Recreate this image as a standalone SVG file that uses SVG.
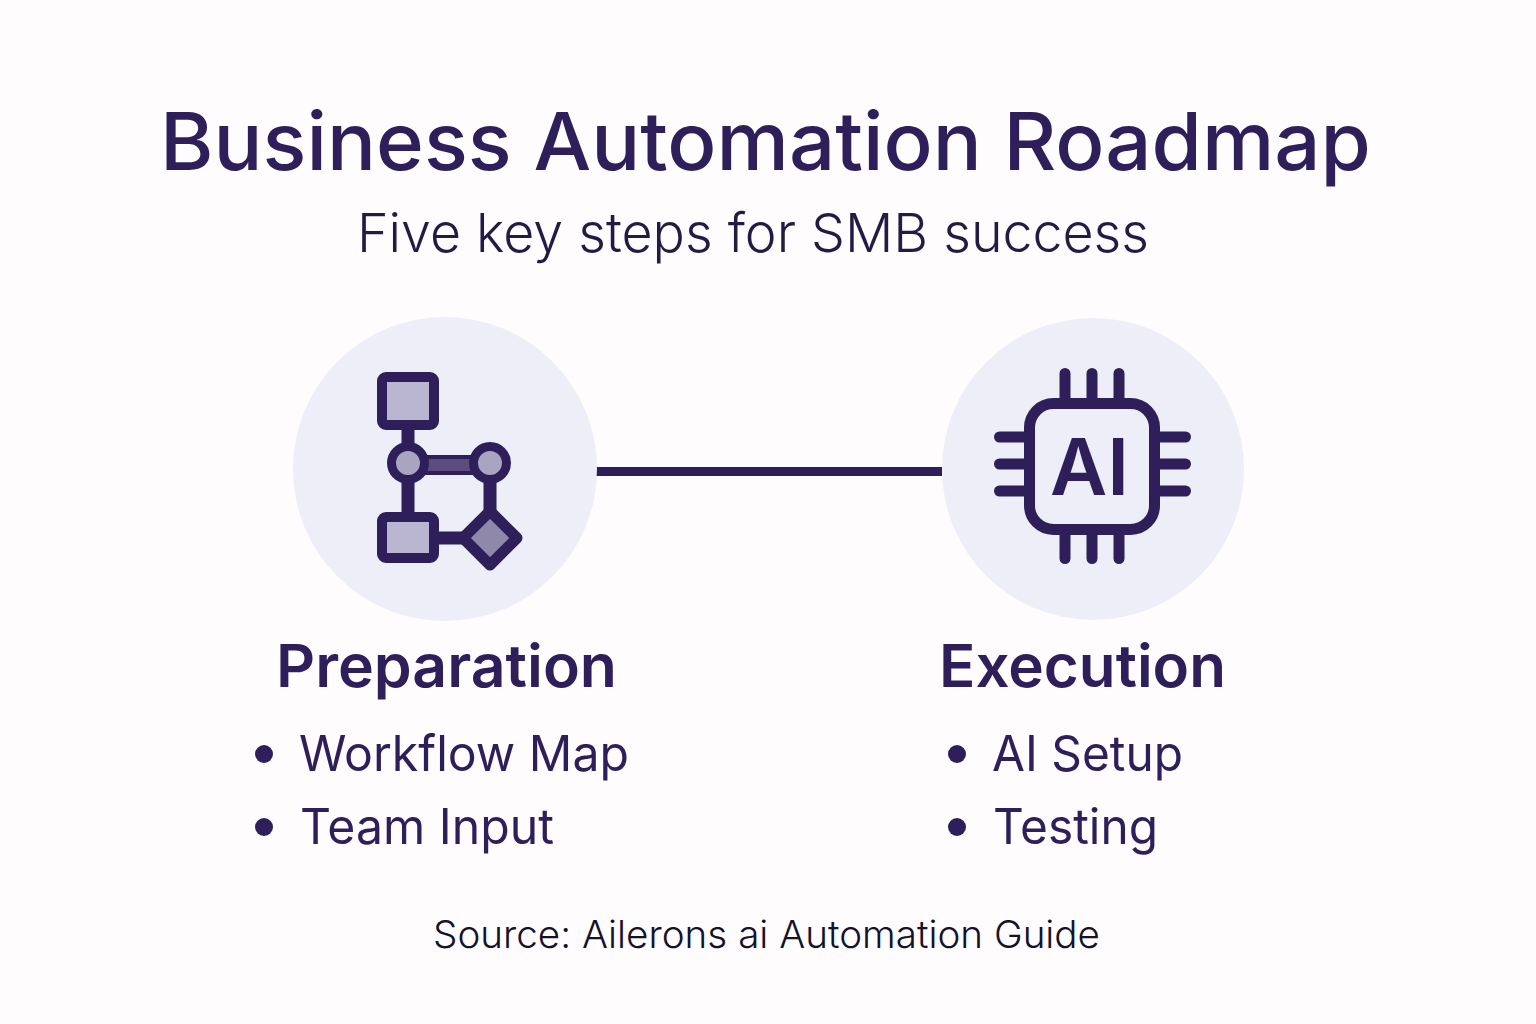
<svg xmlns="http://www.w3.org/2000/svg" width="1536" height="1024" viewBox="0 0 1536 1024">
<style>
text{font-family:"Inter","Liberation Sans",sans-serif;}
.t{fill:#2e1f5a}
.title{font-size:80px;font-weight:500}
.sub{font-size:54px;fill:#221c44;font-weight:300}
.head{font-size:59px;font-weight:600}
.item{font-size:49px;font-weight:400}
.src{font-size:38px;fill:#14112a;font-weight:300}
.bg{fill:#edeef7}
.ln{stroke:#2e1f5a;stroke-linecap:round;fill:none}
.box{stroke:#2e1f5a;stroke-width:10;stroke-linejoin:round}
</style>
<rect width="1536" height="1024" fill="#fefcfd"/>
<g id="header">
<text class="t title" x="160" y="170" textLength="1211" lengthAdjust="spacingAndGlyphs">Business Automation Roadmap</text>
<text class="sub" x="357" y="252" textLength="792" lengthAdjust="spacingAndGlyphs">Five key steps for SMB success</text>
</g>
<g id="connectors"><line x1="596" y1="471.500" x2="942" y2="471.500" stroke="#2e1f5a" stroke-width="9"/></g>
<g id="preparation">
<circle class="bg" cx="445" cy="469" r="152"/>
<path class="ln" stroke-width="13" stroke-linecap="butt" d="M408 425V517M490 480V515M435 538H470"/>
<rect x="425" y="457" width="48" height="16" fill="#5d4d7e" stroke="#2e1f5a" stroke-width="4"/>
<rect class="box" x="382" y="377" width="52" height="48" rx="4" fill="#bab5d0"/>
<rect class="box" x="382" y="517" width="52" height="41" rx="4" fill="#bab5d0"/>
<circle cx="408" cy="463" r="16.500" fill="#a9a4bf" stroke="#2e1f5a" stroke-width="9"/>
<circle cx="490" cy="463" r="16.500" fill="#a9a4bf" stroke="#2e1f5a" stroke-width="9"/>
<path d="M490 511L517 538L490 565L463 538Z" fill="#8f88ab" stroke="#2e1f5a" stroke-width="11" stroke-linejoin="round"/>
<text class="t head" x="276" y="687" textLength="341" lengthAdjust="spacingAndGlyphs">Preparation</text>
<circle class="t" cx="264" cy="754" r="9"/>
<text class="t item" x="299" y="771" textLength="330" lengthAdjust="spacingAndGlyphs">Workflow Map</text>
<circle class="t" cx="264" cy="827" r="9"/>
<text class="t item" x="300" y="844" textLength="254" lengthAdjust="spacingAndGlyphs">Team Input</text>
</g>
<g id="execution">
<circle class="bg" cx="1093" cy="469" r="151"/>
<path class="ln" stroke-width="11" d="M1065 373.500V398M1092 373.500V398M1119 373.500V398M1065 535V558.500M1092 535V558.500M1119 535V558.500M999.500 437H1024M999.500 464H1024M999.500 491H1024M1160 437H1185.500M1160 464H1185.500M1160 491H1185.500"/>
<rect x="1029.500" y="403.500" width="125" height="126" rx="24" fill="#edeef7" stroke="#2e1f5a" stroke-width="11"/>
<text class="t" x="1050" y="495" font-size="78" font-weight="600" textLength="79" lengthAdjust="spacingAndGlyphs">AI</text>
<text class="t head" x="939" y="687" textLength="287" lengthAdjust="spacingAndGlyphs">Execution</text>
<circle class="t" cx="957" cy="754" r="9"/>
<text class="t item" x="992" y="771" textLength="191" lengthAdjust="spacingAndGlyphs">AI Setup</text>
<circle class="t" cx="957" cy="827" r="9"/>
<text class="t item" x="993" y="844" textLength="165" lengthAdjust="spacingAndGlyphs">Testing</text>
</g>
<g id="source"><text class="src" x="433" y="948" textLength="667" lengthAdjust="spacingAndGlyphs">Source: Ailerons ai Automation Guide</text></g>
</svg>
